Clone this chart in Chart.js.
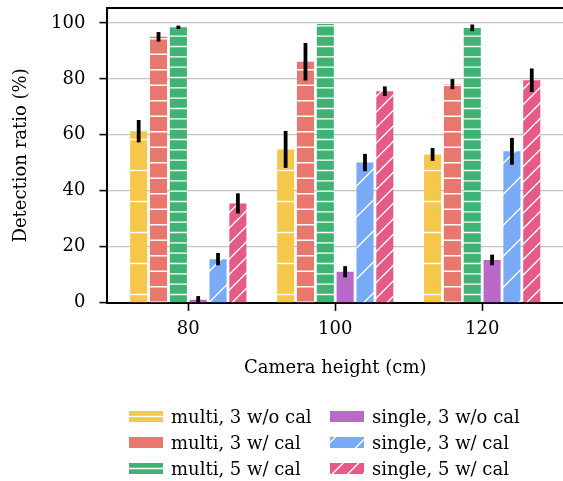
<!DOCTYPE html>
<html>
<head>
<meta charset="utf-8">
<script src="https://cdn.jsdelivr.net/npm/chart.js@4.4.0/dist/chart.umd.min.js"></script>
<style>
  html, body { margin: 0; padding: 0; background: #fff; }
  #wrap { position: relative; width: 563px; height: 481px; overflow: hidden; }
  #chart { position: absolute; left: 0; top: 0; }
  #legend {
    position: absolute; left: 129px; top: 404px;
    display: grid; grid-template-columns: 201px 200px; grid-template-rows: repeat(3, 25.8px);
    grid-auto-flow: column;
    font-family: 'DejaVu Serif', serif; font-size: 18px; color: #000;
  }
  #legend .item { display: flex; align-items: center; white-space: nowrap; }
  #legend canvas { margin-right: 8px; }
</style>
</head>
<body>
<div id="wrap">
  <canvas id="chart" width="563" height="400"></canvas>
  <div id="legend"></div>
</div>
<script>
// camera heights (cm)
const heights = ['80', '100', '120'];
const seriesNames = [
  'multi, 3 w/o cal', 'multi, 3 w/ cal', 'multi, 5 w/ cal',
  'single, 3 w/o cal', 'single, 3 w/ cal', 'single, 5 w/ cal'
];

// detection ratio (%) and error half-widths
const multi3NoCal = [61.3, 54.8, 53.0];
const multi3NoCalErr = [4.0, 6.6, 2.3];
const multi3Cal = [95.0, 86.1, 78.1];
const multi3CalErr = [1.7, 6.7, 1.8];
const multi5Cal = [98.4, 99.6, 98.2];
const multi5CalErr = [0.6, 0, 1.2];
const single3NoCal = [1.1, 11.1, 15.3];
const single3NoCalErr = [1.3, 2.0, 1.9];
const single3Cal = [15.6, 50.1, 54.1];
const single3CalErr = [2.2, 3.1, 4.8];
const single5Cal = [35.5, 75.6, 79.5];
const single5CalErr = [3.6, 1.7, 4.2];

const yTicks = [0, 20, 40, 60, 80, 100];

const values = [multi3NoCal, multi3Cal, multi5Cal, single3NoCal, single3Cal, single5Cal];
const errors = [multi3NoCalErr, multi3CalErr, multi5CalErr, single3NoCalErr, single3CalErr, single5CalErr];

const colors = ['#f5c84c', '#e8776e', '#40b274', '#b969c8', '#79aaf5', '#e55b86'];
// hatch: [kind, number of lines per 31px tile]
const hatches = [['h', 1], ['h', 2], ['h', 3], ['none', 0], ['d', 1], ['d', 2]];

const FONT = "'DejaVu Serif', serif";

function makePattern(color, kind, n) {
  const s = 31;
  const c = document.createElement('canvas');
  c.width = s; c.height = s;
  const g = c.getContext('2d');
  g.fillStyle = color;
  g.fillRect(0, 0, s, s);
  g.strokeStyle = '#fff';
  g.lineWidth = 1.4;
  g.beginPath();
  for (let k = 0; k < n; k++) {
    const off = (k + 0.5) * s / n;
    if (kind === 'h') {
      g.moveTo(0, off); g.lineTo(s, off);
    } else if (kind === 'd') {
      for (let t = -1; t <= 1; t++) {
        g.moveTo(off + t * s - s, s);
        g.lineTo(off + t * s, 0);
        g.moveTo(off + t * s, s);
        g.lineTo(off + t * s + s, 0);
      }
    }
  }
  g.stroke();
  return g.createPattern(c, 'repeat');
}

const datasets = seriesNames.map((name, i) => ({
  label: name,
  data: values[i].map((v, j) => ({ x: j, y: v })),
  errors: errors[i],
  backgroundColor: makePattern(colors[i], hatches[i][0], hatches[i][1]),
  borderWidth: 0,
  categoryPercentage: 0.81,
  barPercentage: 0.86
}));

const errorBars = {
  id: 'errorBars',
  afterDatasetsDraw(chart) {
    const ctx = chart.ctx;
    const y = chart.scales.y;
    ctx.save();
    ctx.strokeStyle = '#000';
    ctx.lineWidth = 3.8;
    chart.data.datasets.forEach((ds, i) => {
      chart.getDatasetMeta(i).data.forEach((bar, j) => {
        const v = ds.data[j].y, e = ds.errors[j];
        if (!e) return;
        ctx.beginPath();
        ctx.moveTo(bar.x, y.getPixelForValue(v - e));
        ctx.lineTo(bar.x, y.getPixelForValue(v + e));
        ctx.stroke();
      });
    });
    ctx.restore();
  }
};

// top spine (the right one falls outside the cropped figure)
const frame = {
  id: 'frame',
  afterDraw(chart) {
    const { ctx, chartArea: a } = chart;
    ctx.save();
    ctx.strokeStyle = '#000';
    ctx.lineWidth = 2;
    ctx.beginPath();
    ctx.moveTo(a.left, a.top);
    ctx.lineTo(chart.width, a.top);
    ctx.stroke();
    ctx.restore();
  }
};

new Chart(document.getElementById('chart'), {
  type: 'bar',
  data: { datasets },
  plugins: [errorBars, frame],
  options: {
    responsive: false,
    animation: false,
    layout: { padding: { top: 0, right: 0, left: 11, bottom: 21 } },
    plugins: { legend: { display: false }, tooltip: { enabled: false } },
    scales: {
      x: {
        type: 'linear',
        offset: false,
        min: -0.55,
        max: 2.55,
        afterBuildTicks: (s) => { s.ticks = heights.map((_, j) => ({ value: j })); },
        ticks: {
          callback: (v) => heights[v],
          color: '#000',
          font: { family: FONT, size: 18 },
          padding: 8,
          maxRotation: 0
        },
        grid: { offset: false, drawOnChartArea: false, tickColor: '#000', tickLength: 8, tickWidth: 1.6 },
        border: { color: '#000', width: 2 },
        title: {
          display: true, text: 'Camera height (cm)', color: '#000',
          font: { family: FONT, size: 18 }, padding: { top: 9, bottom: 0 }
        }
      },
      y: {
        min: 0,
        max: 105.3,
        afterBuildTicks: (s) => { s.ticks = yTicks.map(v => ({ value: v })); },
        afterFit: (s) => { s.paddingTop = 8; s.paddingBottom = 0; },
        ticks: { color: '#000', font: { family: FONT, size: 18 }, padding: 14 },
        grid: { color: '#c4c4c4', lineWidth: 1.2, tickColor: '#000', tickLength: 8, tickWidth: 1.6 },
        border: { color: '#000', width: 2 },
        title: {
          display: true, text: 'Detection ratio (%)', color: '#000',
          font: { family: FONT, size: 18 }, padding: { top: 0, bottom: 4.5 }
        }
      }
    }
  }
});

// legend, column-wise like the original
const legend = document.getElementById('legend');
seriesNames.forEach((name, i) => {
  const item = document.createElement('div');
  item.className = 'item';
  const sw = document.createElement('canvas');
  sw.width = 34; sw.height = 11;
  const g = sw.getContext('2d');
  g.fillStyle = makePattern(colors[i], hatches[i][0], hatches[i][1]);
  g.translate(0, -10);
  g.fillRect(0, 10, 34, 11);
  item.appendChild(sw);
  const t = document.createElement('span');
  t.textContent = name;
  item.appendChild(t);
  legend.appendChild(item);
});
</script>
</body>
</html>
